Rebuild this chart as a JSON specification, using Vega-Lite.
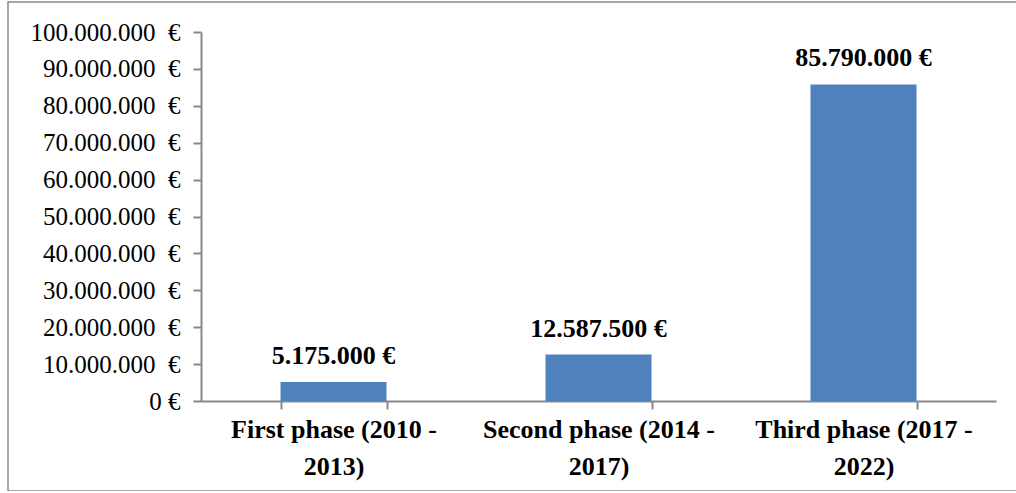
{
  "$schema": "https://vega.github.io/schema/vega-lite/v6.json",
  "autosize": "none",
  "padding": {"left": 8, "top": 2, "right": 0, "bottom": 0},
  "width": 1012,
  "height": 489,
  "config": {
    "locale": {
      "number": {"decimal": ",", "thousands": ".", "grouping": [3], "currency": ["", "\u00a0€"]}
    },
    "view": {"stroke": "#8a8a8a", "strokeWidth": 1.5},
    "font": "Liberation Serif"
  },
  "data": {
    "values": [
      {"phase": "First phase (2010 - 2013)", "amount": 5175000},
      {"phase": "Second phase (2014 - 2017)", "amount": 12587500},
      {"phase": "Third phase (2017 - 2022)", "amount": 85790000}
    ]
  },
  "encoding": {
    "x": {
      "field": "phase",
      "type": "nominal",
      "sort": null,
      "scale": {"range": [193, 988], "paddingInner": 0.6, "paddingOuter": 0.3},
      "axis": {
        "title": null,
        "offset": -90,
        "domainColor": "#888888",
        "domainWidth": 2,
        "tickColor": "#888888",
        "tickWidth": 2,
        "tickSize": 8,
        "tickBand": "extent",
        "labelAngle": 0,
        "labelFont": "Liberation Serif",
        "labelFontWeight": "bold",
        "labelFontSize": 26,
        "labelColor": "#000000",
        "labelBaseline": "top",
        "labelPadding": 7,
        "labelLineHeight": 37,
        "labelLimit": 0,
        "labelExpr": "[substring(datum.label, 0, length(datum.label) - 6), substring(datum.label, length(datum.label) - 5)]"
      }
    },
    "y": {
      "field": "amount",
      "type": "quantitative",
      "scale": {"domain": [0, 100000000], "range": [399, 30], "nice": false},
      "axis": {
        "title": null,
        "offset": -193,
        "values": [0, 10000000, 20000000, 30000000, 40000000, 50000000, 60000000, 70000000, 80000000, 90000000, 100000000],
        "grid": false,
        "domainColor": "#888888",
        "domainWidth": 2,
        "tickColor": "#888888",
        "tickWidth": 2,
        "tickSize": 8,
        "labelFont": "Liberation Serif",
        "labelFontSize": 25,
        "labelColor": "#000000",
        "labelPadding": 13,
        "labelExpr": "datum.value == 0 ? '0\u00a0€' : format(datum.value, ',.0f') + '\u00a0\u00a0€'"
      }
    }
  },
  "layer": [
    {"mark": {"type": "bar", "color": "#4F81BD"}},
    {
      "mark": {"type": "text", "font": "Liberation Serif", "fontSize": 26, "fontWeight": "bold", "baseline": "alphabetic", "dy": -18, "color": "#000000"},
      "encoding": {"text": {"field": "amount", "type": "quantitative", "format": "$,.0f"}}
    }
  ]
}
